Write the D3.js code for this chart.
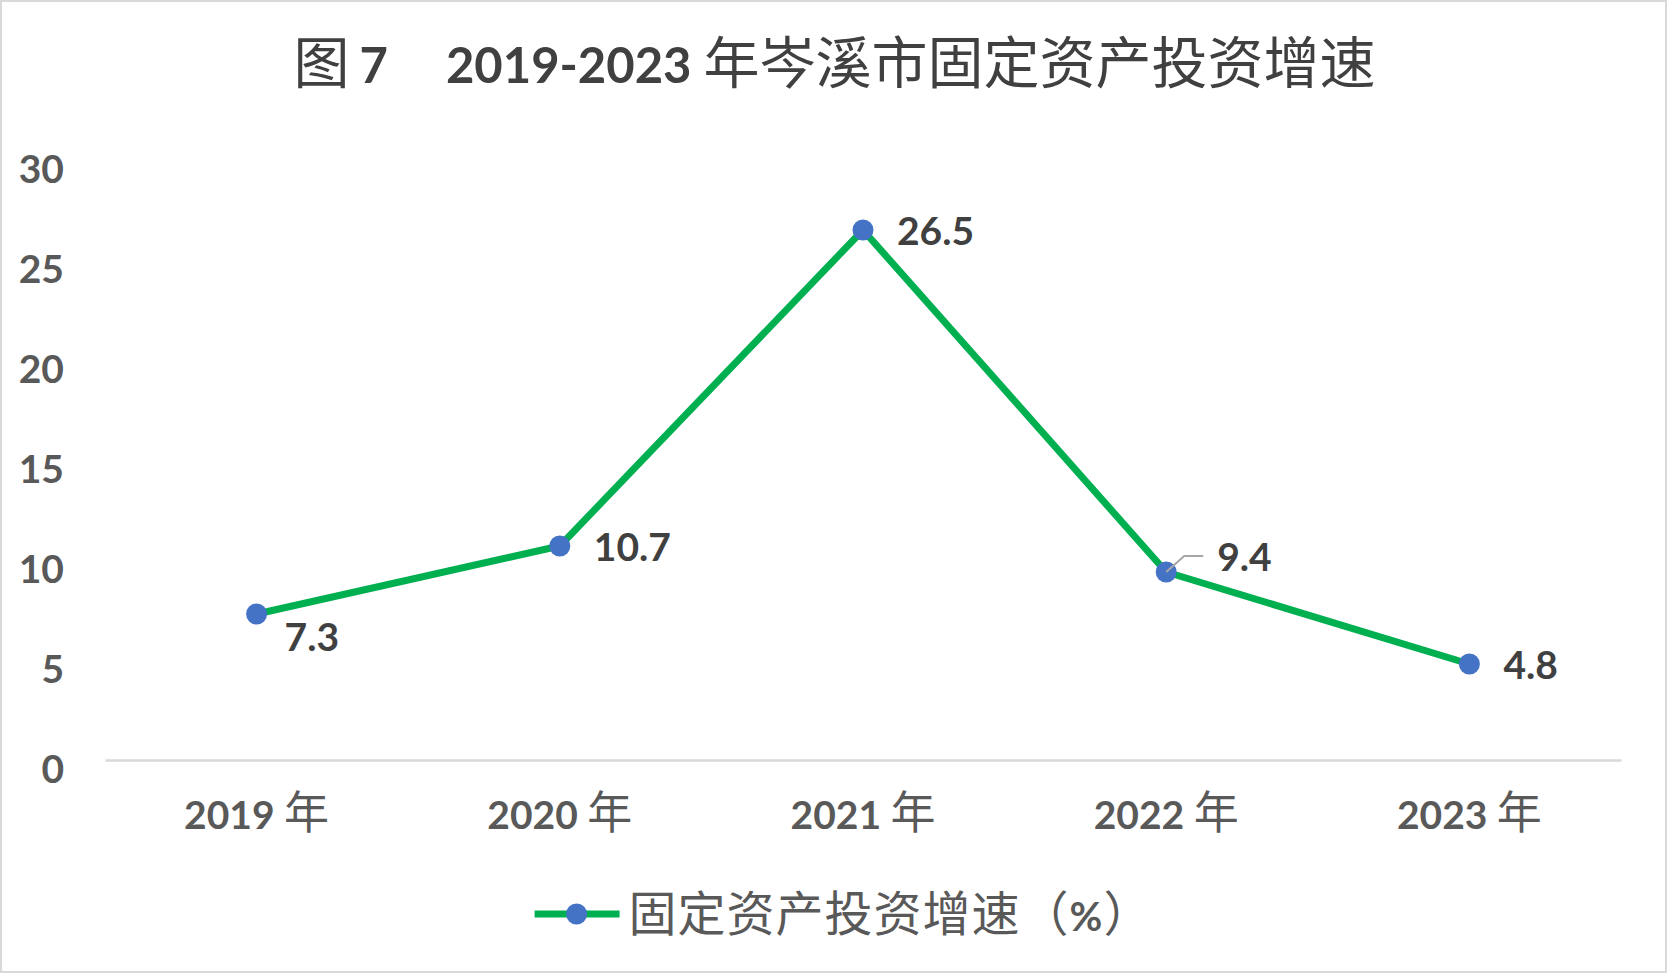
<!DOCTYPE html>
<html>
<head>
<meta charset="utf-8">
<script src="https://cdn.jsdelivr.net/npm/d3@7"></script>
<style>
  body { margin: 0; background: #fff; }
</style>
</head>
<body>
<div id="chart"></div>
<script>
// data
const years = ["2019 年", "2020 年", "2021 年", "2022 年", "2023 年"];
const growth = [7.3, 10.7, 26.5, 9.4, 4.8];
const yTicks = [0, 5, 10, 15, 20, 25, 30];
const seriesName = "固定资产投资增速（%）";
const titleParts = ["图", "7", "2019-2023", "年岑溪市固定资产投资增速"];

const width = 1669,
  height = 979,
  latin = "Lato, 'Open Sans', sans-serif",
  cjk = "'Noto Sans CJK SC', sans-serif",
  green = "#00B050",
  blue = "#4472C4";

const svg = d3
  .select("#chart")
  .append("svg")
  .attr("width", width)
  .attr("height", height)
  .style("display", "block");

// chart border
svg
  .append("rect")
  .attr("x", 1)
  .attr("y", 1)
  .attr("width", 1665)
  .attr("height", 971)
  .attr("fill", "#fff")
  .attr("stroke", "#D9D9D9")
  .attr("stroke-width", 2);

const x = d3.scaleBand().domain(years).range([105, 1621]),
  y = d3.scaleLinear().domain([0, 30]).range([760, 160]);

const isCjk = (ch) => /[\u3000-\u9fff\uff00-\uffef]/.test(ch);

// split text into latin / cjk runs, each with its own font
function mixed(sel, str, latinSize, cjkSize, latinWeight) {
  const runs = [];
  for (const ch of str) {
    const c = isCjk(ch);
    if (runs.length && runs[runs.length - 1].c === c) runs[runs.length - 1].s += ch;
    else runs.push({ c, s: ch });
  }
  runs.forEach((r) => {
    sel
      .append("tspan")
      .text(r.s)
      .attr("font-family", r.c ? cjk : latin)
      .attr("font-size", r.c ? cjkSize : latinSize)
      .attr("font-weight", r.c ? 400 : latinWeight);
  });
}

// title
const title = svg
  .append("text")
  .attr("x", width / 2)
  .attr("y", 83)
  .attr("text-anchor", "middle")
  .attr("fill", "#404040")
  .style("white-space", "pre");
title.append("tspan").text(titleParts[0]).attr("font-family", cjk).attr("font-size", 56);
title
  .append("tspan")
  .text(titleParts[1])
  .attr("dx", 10)
  .attr("font-family", latin)
  .attr("font-weight", 700)
  .attr("font-size", 49);
title
  .append("tspan")
  .text(titleParts[2])
  .attr("dx", 58)
  .attr("font-family", latin)
  .attr("font-weight", 700)
  .attr("font-size", 49);
title
  .append("tspan")
  .text(titleParts[3])
  .attr("dx", 12)
  .attr("font-family", cjk)
  .attr("font-size", 56);

// y axis
const yAxis = svg
  .append("g")
  .attr("transform", "translate(106,0)")
  .call(d3.axisLeft(y).tickValues(yTicks).tickSize(0).tickPadding(42));
yAxis.select(".domain").remove();
yAxis
  .selectAll("text")
  .attr("dy", null)
  .attr("y", 22)
  .attr("fill", "#595959")
  .attr("font-family", latin)
  .attr("font-weight", 700)
  .attr("font-size", 39);

// x axis
const xAxis = svg
  .append("g")
  .attr("transform", `translate(0,${y(0)})`)
  .call(d3.axisBottom(x).tickSize(0).tickFormat(""));
xAxis.select(".domain").attr("stroke", "#D9D9D9").attr("stroke-width", 2.5);
xAxis
  .selectAll(".tick text")
  .attr("y", 69)
  .attr("dy", null)
  .attr("fill", "#595959")
  .style("white-space", "pre")
  .each(function (d) {
    mixed(d3.select(this), d, 39, 45, 700);
  });

// line
const pts = years.map((c, i) => ({ c, v: growth[i] }));
const cx = (d) => x(d.c) + x.bandwidth() / 2;

svg
  .append("path")
  .datum(pts)
  .attr("fill", "none")
  .attr("stroke", green)
  .attr("stroke-width", 7)
  .attr("stroke-linejoin", "round")
  .attr("d", d3.line().x(cx).y((d) => y(d.v)));

svg
  .append("g")
  .selectAll("circle")
  .data(pts)
  .join("circle")
  .attr("cx", cx)
  .attr("cy", (d) => y(d.v))
  .attr("r", 10.5)
  .attr("fill", blue);

// data labels
const placement = ["below", "right", "right", "leader", "right"];
const offsets = {
  right: [34, 1],
  below: [28, 23],
  leader: [51, -15],
};
pts.forEach((d, i) => {
  const p = placement[i],
    [dx, dy] = offsets[p],
    px = cx(d),
    py = y(d.v);
  if (p === "leader") {
    svg
      .append("polyline")
      .attr("points", [[px, py], [px + 18, py - 16], [px + 37, py - 16]].join(" "))
      .attr("fill", "none")
      .attr("stroke", "#A6A6A6")
      .attr("stroke-width", 2);
  }
  svg
    .append("text")
    .attr("x", px + dx)
    .attr("y", py + dy + 14)
    .attr("fill", "#404040")
    .attr("font-family", latin)
    .attr("font-weight", 700)
    .attr("font-size", 39)
    .text(d.v);
});

// legend
const legend = svg.append("g");
const ly = 914;
legend
  .append("line")
  .attr("x1", 0)
  .attr("x2", 85)
  .attr("y1", ly)
  .attr("y2", ly)
  .attr("stroke", green)
  .attr("stroke-width", 7);
legend.append("circle").attr("cx", 42).attr("cy", ly).attr("r", 10.5).attr("fill", blue);
const legendText = legend
  .append("text")
  .attr("x", 94)
  .attr("y", ly + 17)
  .attr("fill", "#595959")
  .attr("letter-spacing", 1);
mixed(legendText, seriesName, 40, 48, 700);
const lw = 94 + legendText.node().getComputedTextLength();
legend.attr("transform", `translate(${(width - lw) / 2 + 9},0)`);
</script>
</body>
</html>
